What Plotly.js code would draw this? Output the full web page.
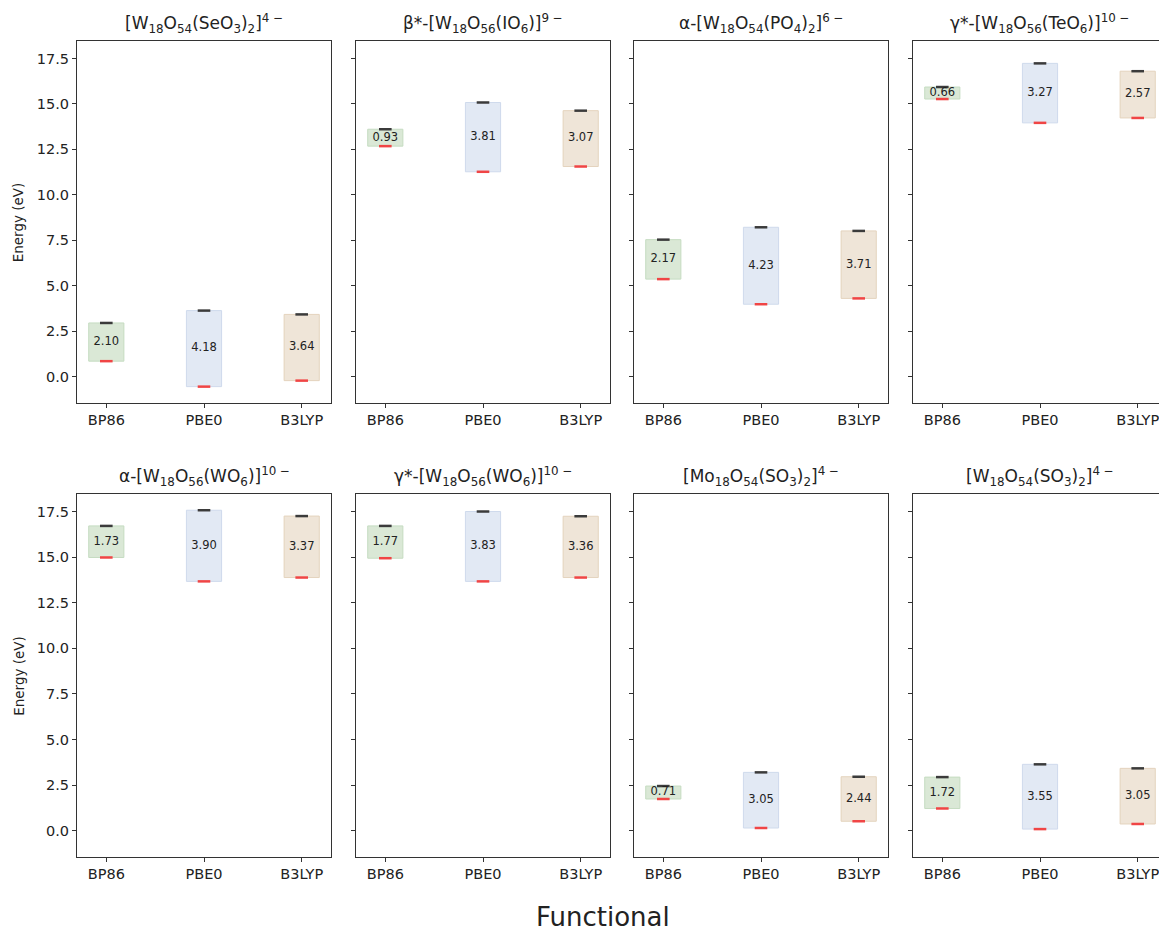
<!DOCTYPE html>
<html>
<head>
<meta charset="utf-8">
<script src="https://cdn.plot.ly/plotly-3.0.1.min.js"></script>
<style>
  html, body { margin: 0; padding: 0; overflow: hidden; background: #ffffff; }
  #chart { width: 1180px; height: 931px; }
</style>
</head>
<body>
<div id="chart"></div>
<script>
// Functionals compared in every panel
const functionals = ["BP86", "PBE0", "B3LYP"];

// Cluster names (panel titles), row by row
const clusters = [
  "[W<sub>18</sub>O<sub>54</sub>(SeO<sub>3</sub>)<sub>2</sub>]<sup>4 −</sup>",
  "β*-[W<sub>18</sub>O<sub>56</sub>(IO<sub>6</sub>)]<sup>9 −</sup>",
  "α-[W<sub>18</sub>O<sub>54</sub>(PO<sub>4</sub>)<sub>2</sub>]<sup>6 −</sup>",
  "γ*-[W<sub>18</sub>O<sub>56</sub>(TeO<sub>6</sub>)]<sup>10 −</sup>",
  "α-[W<sub>18</sub>O<sub>56</sub>(WO<sub>6</sub>)]<sup>10 −</sup>",
  "γ*-[W<sub>18</sub>O<sub>56</sub>(WO<sub>6</sub>)]<sup>10 −</sup>",
  "[Mo<sub>18</sub>O<sub>54</sub>(SO<sub>3</sub>)<sub>2</sub>]<sup>4 −</sup>",
  "[W<sub>18</sub>O<sub>54</sub>(SO<sub>3</sub>)<sub>2</sub>]<sup>4 −</sup>"
];

// Lower level (eV) per cluster, in functional order BP86, PBE0, B3LYP
const homoSeO3   = [0.86, -0.54, -0.21];
const homoIO6    = [12.68, 11.27, 11.56];
const homoPO4    = [5.37, 3.99, 4.31];
const homoTeO6   = [15.27, 13.96, 14.23];
const homoAlphaWO6 = [14.98, 13.67, 13.88];
const homoGammaWO6 = [14.94, 13.67, 13.88];
const homoMoSO3  = [1.74, 0.15, 0.52];
const homoWSO3   = [1.22, 0.09, 0.37];

// Energy gap (eV) per cluster, in functional order BP86, PBE0, B3LYP
const gapSeO3    = [2.10, 4.18, 3.64];
const gapIO6     = [0.93, 3.81, 3.07];
const gapPO4     = [2.17, 4.23, 3.71];
const gapTeO6    = [0.66, 3.27, 2.57];
const gapAlphaWO6 = [1.73, 3.90, 3.37];
const gapGammaWO6 = [1.77, 3.83, 3.36];
const gapMoSO3   = [0.71, 3.05, 2.44];
const gapWSO3    = [1.72, 3.55, 3.05];

// Y axis tick values
const energyTicks = [0, 2.5, 5, 7.5, 10, 12.5, 15, 17.5];

const homoSets = [homoSeO3, homoIO6, homoPO4, homoTeO6, homoAlphaWO6, homoGammaWO6, homoMoSO3, homoWSO3];
const gapSets  = [gapSeO3, gapIO6, gapPO4, gapTeO6, gapAlphaWO6, gapGammaWO6, gapMoSO3, gapWSO3];

// Styling
const FONT = "DejaVu Sans, Liberation Sans, sans-serif";
const fillColors = ["#dae8d6", "#e2e9f4", "#efe5d8"];
const edgeColors = ["#c5dcc1", "#cfdaec", "#e4d3bd"];
const W = 1180, H = 931;

// Panel frames in pixels: columns (left,right) and rows (top,bottom)
const colsPx = [[77, 331], [356, 610], [634, 888], [913, 1167]];
const rowsPx = [[41, 403], [494, 857]];

const xIdx = functionals.map((_, i) => i);
const traces = [];
const layout = {
  width: W, height: H,
  margin: {l: 0, r: 0, t: 0, b: 0},
  paper_bgcolor: "#ffffff",
  plot_bgcolor: "#ffffff",
  showlegend: false,
  barmode: "overlay",
  font: {family: FONT, color: "#222222"},
  annotations: []
};

for (let p = 0; p < 8; p++) {
  const r = Math.floor(p / 4), c = p % 4;
  const n = p + 1;
  const xa = "x" + (n === 1 ? "" : n), ya = "y" + (n === 1 ? "" : n);
  const homo = homoSets[p], gap = gapSets[p];
  const lumo = homo.map((h, i) => h + gap[i]);
  const mid = homo.map((h, i) => h + gap[i] / 2);

  // Gap box from lower to upper level
  traces.push({
    type: "bar", x: xIdx, y: gap, base: homo, width: 0.36,
    xaxis: xa, yaxis: ya,
    marker: {color: fillColors, line: {color: edgeColors, width: 1}},
    hoverinfo: "skip"
  });
  // Upper level marker
  traces.push({
    type: "scatter", mode: "markers", x: xIdx, y: lumo,
    xaxis: xa, yaxis: ya,
    marker: {symbol: "line-ew", size: 9, line: {color: "#3b3b3b", width: 2.5}},
    hoverinfo: "skip"
  });
  // Lower level marker
  traces.push({
    type: "scatter", mode: "markers", x: xIdx, y: homo,
    xaxis: xa, yaxis: ya,
    marker: {symbol: "line-ew", size: 9, line: {color: "#f04545", width: 2.5}},
    hoverinfo: "skip"
  });
  // Gap value labels
  traces.push({
    type: "scatter", mode: "text", x: xIdx, y: mid,
    text: gap.map(g => g.toFixed(2)),
    textposition: "middle center",
    textfont: {family: FONT, size: 11.5, color: "#222222"},
    xaxis: xa, yaxis: ya, hoverinfo: "skip"
  });

  const xd = [colsPx[c][0] / W, colsPx[c][1] / W];
  const yd = [1 - rowsPx[r][1] / H, 1 - rowsPx[r][0] / H];
  const axKey = n === 1 ? "" : String(n);

  layout["xaxis" + axKey] = {
    domain: xd, anchor: ya, range: [-0.3, 2.3],
    tickvals: xIdx, ticktext: functionals,
    ticks: "outside", ticklen: 4, tickwidth: 1, tickcolor: "#333333",
    showline: true, mirror: true, linecolor: "#333333", linewidth: 1,
    showgrid: false, zeroline: false, fixedrange: true,
    tickfont: {family: FONT, size: 14.5, color: "#222222"}
  };
  layout["yaxis" + axKey] = {
    domain: yd, anchor: xa, range: [-1.44, 18.46],
    tickvals: energyTicks, tickformat: ".1f",
    showticklabels: c === 0,
    ticks: "outside", ticklen: 4, tickwidth: 1, tickcolor: "#333333",
    showline: true, mirror: true, linecolor: "#333333", linewidth: 1,
    showgrid: false, zeroline: false, fixedrange: true,
    tickfont: {family: FONT, size: 14.5, color: "#222222"}
  };

  // Panel title
  layout.annotations.push({
    xref: "paper", yref: "paper",
    x: (xd[0] + xd[1]) / 2, y: yd[1],
    xanchor: "center", yanchor: "bottom", yshift: 3,
    text: clusters[p], showarrow: false,
    font: {family: FONT, size: 17, color: "#222222"}
  });

  // Y axis label on the left column
  if (c === 0) {
    layout.annotations.push({
      xref: "paper", yref: "paper",
      x: 18.3 / W, y: (yd[0] + yd[1]) / 2,
      xanchor: "center", yanchor: "middle",
      text: "Energy (eV)", textangle: -90, showarrow: false,
      font: {family: FONT, size: 13.5, color: "#222222"}
    });
  }
}

// Shared x label
layout.annotations.push({
  xref: "paper", yref: "paper",
  x: 603 / W, y: 1 - 917 / H,
  xanchor: "center", yanchor: "middle",
  text: "Functional", showarrow: false,
  font: {family: FONT, size: 26, color: "#222222"}
});

Plotly.newPlot("chart", traces, layout, {displayModeBar: false, staticPlot: true});
</script>
</body>
</html>
